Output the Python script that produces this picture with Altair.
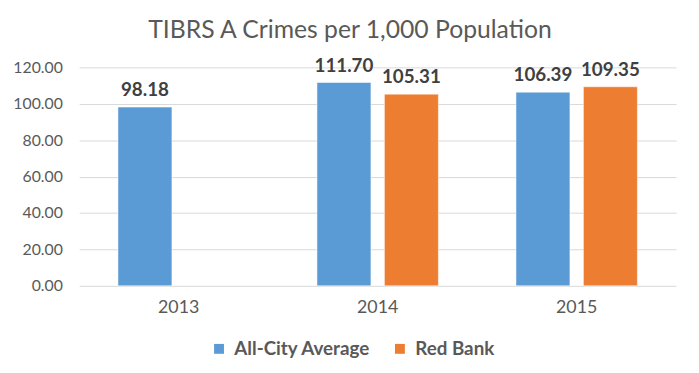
import altair as alt
import pandas as pd

years = ["2013", "2014", "2015"]
series = ["All-City Average", "Red Bank"]
all_city = [98.18, 111.70, 106.39]
red_bank = [None, 105.31, 109.35]
colors = ["#5B9BD5", "#ED7D31"]
y_ticks = [0, 20, 40, 60, 80, 100, 120]

rows = []
for i, yr in enumerate(years):
    for s, vals in zip(series, [all_city, red_bank]):
        if vals[i] is not None:
            rows.append({"year": yr, "series": s, "value": vals[i]})
df = pd.DataFrame(rows)

FONT = "Lato"
TXT = "#595959"

x_enc = alt.X(
    "year:N",
    sort=years,
    scale=alt.Scale(paddingInner=0.39, paddingOuter=0.195),
    axis=alt.Axis(
        title=None, labelAngle=0, domain=False, ticks=False,
        labelFont=FONT, labelFontSize=18, labelColor=TXT, labelPadding=13,
    ),
)
xoff = alt.XOffset("series:N", sort=series,
                   scale=alt.Scale(domain=series, paddingInner=0.2, paddingOuter=0))
y_enc = alt.Y(
    "value:Q",
    scale=alt.Scale(domain=[0, 120], nice=False),
    axis=alt.Axis(
        title=None, values=y_ticks, format=".2f", domain=False, ticks=False,
        labelFont=FONT, labelFontSize=16, labelColor=TXT, labelPadding=17,
        gridColor="#D9D9D9", gridWidth=1,
    ),
)

base = alt.Chart(df).encode(x=x_enc, xOffset=xoff, y=y_enc)

bars = base.mark_bar(stroke="white", strokeWidth=0.5).encode(
    color=alt.Color(
        "series:N",
        sort=series,
        scale=alt.Scale(domain=series, range=colors),
        legend=alt.Legend(
            title=None, orient="none", direction="horizontal",
            legendX=132, legendY=275,
            symbolType="square", symbolSize=100, symbolStrokeWidth=0,
            labelFont=FONT, labelFontSize=19, labelFontWeight="bold",
            labelColor=TXT, labelOffset=6, columnPadding=20,
        ),
    )
)

labels = base.mark_text(
    dy=-11, baseline="alphabetic", fontWeight="bold", fontSize=19,
    font=FONT, color="#404040",
).encode(text=alt.Text("value:Q", format=".2f"))

chart = (
    alt.layer(bars, labels)
    .properties(
        width=604,
        height=221,
        autosize=alt.AutoSizeParams(type="none"),
        padding={"left": 72, "top": 58, "right": 15, "bottom": 78},
        title=alt.TitleParams(
            "TIBRS A Crimes per 1,000 Population",
            font=FONT, fontSize=25, fontWeight="normal", color=TXT,
            anchor="middle", dx=-28, offset=14,
        ),
    )
    .configure_view(stroke=None)
)

chart.save("out.html", embed_options={"renderer": "svg", "actions": False})
